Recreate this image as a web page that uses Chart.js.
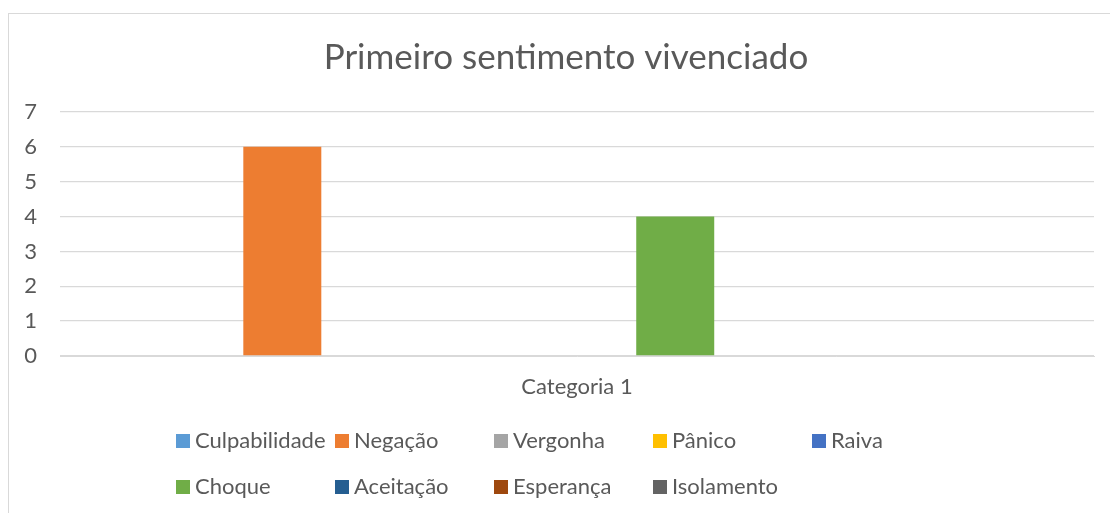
<!DOCTYPE html>
<html>
<head>
<meta charset="utf-8">
<script src="https://cdn.jsdelivr.net/npm/chart.js@4/dist/chart.umd.min.js"></script>
<style>
  html, body { margin: 0; padding: 0; background: #fff; }
  #wrap { position: relative; width: 1110px; height: 513px; overflow: hidden; }
  #frame { position: absolute; left: 8px; top: 13px; width: 1120px; height: 520px; border: 1px solid #d9d9d9; }
  #chart { position: absolute; left: 0; top: 0; }
</style>
</head>
<body>
<div id="wrap">
  <div id="frame"></div>
  <canvas id="chart" width="1110" height="513"></canvas>
</div>
<script>
// chart data
const chartTitle = 'Primeiro sentimento vivenciado';
const categories = ['Categoria 1'];
const seriesNames = ['Culpabilidade', 'Negação', 'Vergonha', 'Pânico', 'Raiva',
                     'Choque', 'Aceitação', 'Esperança', 'Isolamento'];
const seriesValues = [0, 6, 0, 0, 0, 4, 0, 0, 0];
const seriesColors = ['#5B9BD5', '#ED7D31', '#A5A5A5', '#FFC000', '#4472C4',
                      '#70AD47', '#255E91', '#9E480E', '#636363'];
const yTicks = [0, 1, 2, 3, 4, 5, 6, 7];

const textColor = '#595959';
const gridColor = '#d9d9d9';
const fontFamily = 'Lato, "Open Sans", sans-serif';

// title centred on the chart frame (not the canvas), like Excel does
const excelTitle = {
    id: 'excelTitle',
    afterDraw(chart) {
        const ctx = chart.ctx;
        ctx.save();
        ctx.font = '35px ' + fontFamily;
        ctx.fillStyle = textColor;
        ctx.textAlign = 'center';
        ctx.textBaseline = 'alphabetic';
        ctx.fillText(chartTitle, 566, 69);
        ctx.restore();
    }
};

// Excel style legend: 5 fixed-width columns, two rows
const excelLegend = {
    id: 'excelLegend',
    afterDraw(chart) {
        const ctx = chart.ctx;
        const left = 176, colW = 159, rows = [441, 487], box = 14;
        ctx.save();
        ctx.font = '22px ' + fontFamily;
        ctx.textBaseline = 'middle';
        ctx.textAlign = 'left';
        chart.data.datasets.forEach(function(ds, i) {
            const x = left + (i % 5) * colW;
            const y = rows[Math.floor(i / 5)];
            ctx.fillStyle = ds.backgroundColor;
            ctx.fillRect(x, y - box / 2, box, box);
            ctx.fillStyle = textColor;
            ctx.fillText(ds.label, x + box + 5, y);
        });
        ctx.restore();
    }
};

const datasets = seriesNames.map(function(name, i) {
    return {
        label: name,
        data: [seriesValues[i]],
        backgroundColor: seriesColors[i],
        borderWidth: 0,
        categoryPercentage: 0.855,
        barPercentage: 0.794
    };
});

new Chart(document.getElementById('chart'), {
    type: 'bar',
    data: { labels: categories, datasets: datasets },
    options: {
        responsive: false,
        animation: false,
        layout: { padding: { left: 0, right: 16, top: 112, bottom: 97 } },
        plugins: {
            legend: { display: false },
            tooltip: { enabled: false },
            title: { display: false }
        },
        scales: {
            x: {
                grid: { display: false, drawTicks: false },
                border: { display: true, color: gridColor, width: 1 },
                ticks: { color: textColor, font: { family: fontFamily, size: 22 }, padding: 18 },
                afterFit: function(scale) { scale.height = 60; }
            },
            y: {
                min: yTicks[0],
                max: yTicks[yTicks.length - 1],
                afterBuildTicks: function(scale) {
                    scale.ticks = yTicks.map(function(v) { return { value: v }; });
                },
                grid: { color: gridColor, lineWidth: 1.3, drawTicks: false },
                border: { display: false },
                ticks: { color: textColor, font: { family: fontFamily, size: 22 }, padding: 23 },
                afterFit: function(scale) { scale.width = 60; }
            }
        }
    },
    plugins: [excelTitle, excelLegend]
});
</script>
</body>
</html>
